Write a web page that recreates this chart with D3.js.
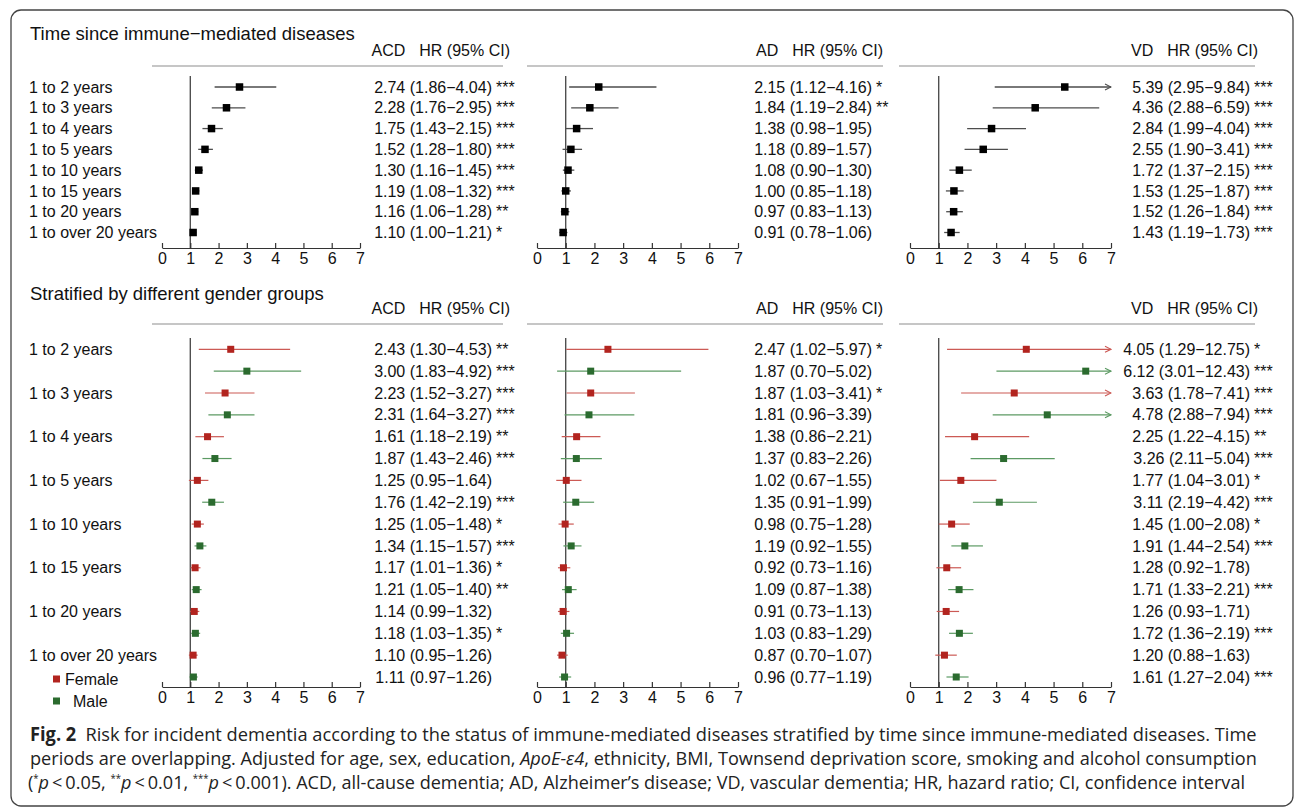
<!DOCTYPE html>
<html lang="en">
<head>
  <meta charset="UTF-8">
  <title>Fig. 2 - dementia risk by time since immune-mediated diseases</title>
  <script src="https://d3js.org/d3.v7.min.js"></script>
  <style>
    body { margin: 0; background: #fff; }
    svg text { font-family: "Liberation Sans", Arial, sans-serif; fill: #111; }
  </style>
</head>
<body>
<script>
  // ---- data ----
  const periods = ['1 to 2 years', '1 to 3 years', '1 to 4 years', '1 to 5 years',
    '1 to 10 years', '1 to 15 years', '1 to 20 years', '1 to over 20 years'];
  const ticks = [0, 1, 2, 3, 4, 5, 6, 7];

  // time since immune-mediated diseases
  const acdHR = [2.74, 2.28, 1.75, 1.52, 1.30, 1.19, 1.16, 1.10];
  const acdLo = [1.86, 1.76, 1.43, 1.28, 1.16, 1.08, 1.06, 1.00];
  const acdHi = [4.04, 2.95, 2.15, 1.80, 1.45, 1.32, 1.28, 1.21];
  const acdSig = ['***', '***', '***', '***', '***', '***', '**', '*'];

  const adHR = [2.15, 1.84, 1.38, 1.18, 1.08, 1.00, 0.97, 0.91];
  const adLo = [1.12, 1.19, 0.98, 0.89, 0.90, 0.85, 0.83, 0.78];
  const adHi = [4.16, 2.84, 1.95, 1.57, 1.30, 1.18, 1.13, 1.06];
  const adSig = ['*', '**', '', '', '', '', '', ''];

  const vdHR = [5.39, 4.36, 2.84, 2.55, 1.72, 1.53, 1.52, 1.43];
  const vdLo = [2.95, 2.88, 1.99, 1.90, 1.37, 1.25, 1.26, 1.19];
  const vdHi = [9.84, 6.59, 4.04, 3.41, 2.15, 1.87, 1.84, 1.73];
  const vdSig = ['***', '***', '***', '***', '***', '***', '***', '***'];

  // stratified by gender
  const acdFemaleHR = [2.43, 2.23, 1.61, 1.25, 1.25, 1.17, 1.14, 1.10];
  const acdFemaleLo = [1.30, 1.52, 1.18, 0.95, 1.05, 1.01, 0.99, 0.95];
  const acdFemaleHi = [4.53, 3.27, 2.19, 1.64, 1.48, 1.36, 1.32, 1.26];
  const acdFemaleSig = ['**', '***', '**', '', '*', '*', '', ''];
  const acdMaleHR = [3.00, 2.31, 1.87, 1.76, 1.34, 1.21, 1.18, 1.11];
  const acdMaleLo = [1.83, 1.64, 1.43, 1.42, 1.15, 1.05, 1.03, 0.97];
  const acdMaleHi = [4.92, 3.27, 2.46, 2.19, 1.57, 1.40, 1.35, 1.26];
  const acdMaleSig = ['***', '***', '***', '***', '***', '**', '*', ''];

  const adFemaleHR = [2.47, 1.87, 1.38, 1.02, 0.98, 0.92, 0.91, 0.87];
  const adFemaleLo = [1.02, 1.03, 0.86, 0.67, 0.75, 0.73, 0.73, 0.70];
  const adFemaleHi = [5.97, 3.41, 2.21, 1.55, 1.28, 1.16, 1.13, 1.07];
  const adFemaleSig = ['*', '*', '', '', '', '', '', ''];
  const adMaleHR = [1.87, 1.81, 1.37, 1.35, 1.19, 1.09, 1.03, 0.96];
  const adMaleLo = [0.70, 0.96, 0.83, 0.91, 0.92, 0.87, 0.83, 0.77];
  const adMaleHi = [5.02, 3.39, 2.26, 1.99, 1.55, 1.38, 1.29, 1.19];
  const adMaleSig = ['', '', '', '', '', '', '', ''];

  const vdFemaleHR = [4.05, 3.63, 2.25, 1.77, 1.45, 1.28, 1.26, 1.20];
  const vdFemaleLo = [1.29, 1.78, 1.22, 1.04, 1.00, 0.92, 0.93, 0.88];
  const vdFemaleHi = [12.75, 7.41, 4.15, 3.01, 2.08, 1.78, 1.71, 1.63];
  const vdFemaleSig = ['*', '***', '**', '*', '*', '', '', ''];
  const vdMaleHR = [6.12, 4.78, 3.26, 3.11, 1.91, 1.71, 1.72, 1.61];
  const vdMaleLo = [3.01, 2.88, 2.11, 2.19, 1.44, 1.33, 1.36, 1.27];
  const vdMaleHi = [12.43, 7.94, 5.04, 4.42, 2.54, 2.21, 2.19, 2.04];
  const vdMaleSig = ['***', '***', '***', '***', '***', '***', '***', '***'];

  // ---- styling ----
  const width = 1295, height = 807;
  const colors = {
    all: {mark: '#000', line: '#4d4d4d'},
    f: {mark: '#b2241f', line: '#cc5a55'},
    m: {mark: '#2b6b2f', line: '#5c9a63'}
  };

  const svg = d3.select('body').append('svg')
    .attr('width', width).attr('height', height);

  // outer frame
  svg.append('rect')
    .attr('x', 11).attr('y', 10).attr('width', 1282).attr('height', 796)
    .attr('rx', 10).attr('fill', 'none').attr('stroke', '#444').attr('stroke-width', 1.3);

  // arrow heads for truncated intervals
  const defs = svg.append('defs');
  Object.entries(colors).forEach(([k, c]) => {
    defs.append('marker')
      .attr('id', 'arrow-' + k)
      .attr('viewBox', '-1 -4 8 8')
      .attr('refX', 6).attr('refY', 0)
      .attr('markerWidth', 8).attr('markerHeight', 8)
      .attr('markerUnits', 'userSpaceOnUse')
      .attr('orient', 'auto')
      .append('path')
      .attr('d', 'M0,-3L6,0L0,3')
      .attr('fill', 'none')
      .attr('stroke', c.line)
      .attr('stroke-width', 1.1);
  });

  const fmt = d3.format('.2f');
  const ciText = d => `${fmt(d.hr)} (${fmt(d.lo)}\u2212${fmt(d.hi)})`;

  // column positions of the three panels (0 and 7 on the x axis, text ends)
  const panelPos = {
    ACD: {x0: 162, x7: 360, sep: [152, 503], textEnd: 492, headEnd: 510},
    AD: {x0: 537, x7: 738, sep: [527, 883], textEnd: 872, headEnd: 883},
    VD: {x0: 910, x7: 1111, sep: [899, 1255], textEnd: 1250, headEnd: 1258}
  };

  function makeRows(hr, lo, hi, sig, group) {
    return hr.map((v, i) => ({hr: v, lo: lo[i], hi: hi[i], sig: sig[i], group: group}));
  }

  function interleave(a, b) {
    return a.flatMap((d, i) => [d, b[i]]);
  }

  function drawPanel(name, rows, sec) {
    const pos = panelPos[name];
    const x = d3.scaleLinear().domain([0, 7]).range([pos.x0, pos.x7]);
    const y = d3.scalePoint().domain(d3.range(rows.length)).range(sec.rowRange);
    const g = svg.append('g');

    // header
    const hr = g.append('text')
      .attr('x', pos.headEnd).attr('y', sec.headY).attr('dy', '0.35em')
      .attr('text-anchor', 'end').attr('font-size', 16)
      .text('HR (95% CI)');
    const hw = hr.node().getComputedTextLength();
    g.append('text')
      .attr('x', pos.headEnd - hw - 14).attr('y', sec.headY).attr('dy', '0.35em')
      .attr('text-anchor', 'end').attr('font-size', 16)
      .text(name);

    // separator
    g.append('line')
      .attr('x1', pos.sep[0]).attr('x2', pos.sep[1])
      .attr('y1', sec.sepY).attr('y2', sec.sepY)
      .attr('stroke', '#b3b3b3').attr('stroke-width', 1.5);

    // reference line at HR = 1
    g.append('line')
      .attr('x1', x(1)).attr('x2', x(1))
      .attr('y1', sec.refTop).attr('y2', sec.axisY)
      .attr('stroke', '#444').attr('stroke-width', 1.3);

    // axis
    const axis = g.append('g')
      .attr('transform', `translate(0,${sec.axisY})`)
      .call(d3.axisBottom(x).tickValues(ticks).tickFormat(d3.format('d'))
        .tickSize(-5).tickSizeOuter(0).tickPadding(5));
    axis.selectAll('path, line').attr('stroke', '#333').attr('stroke-width', 1.2);
    axis.selectAll('text').attr('font-size', 16).attr('fill', '#111')
      .attr('font-family', '"Liberation Sans", Arial, sans-serif');

    // confidence intervals
    g.selectAll('line.ci')
      .data(rows)
      .join('line')
      .attr('class', 'ci')
      .attr('x1', d => x(Math.max(d.lo, 0)))
      .attr('x2', d => x(Math.min(d.hi, 7)))
      .attr('y1', (d, i) => y(i)).attr('y2', (d, i) => y(i))
      .attr('stroke', d => colors[d.group].line)
      .attr('stroke-width', sec.lineW)
      .attr('marker-end', d => d.hi > 7 ? `url(#arrow-${d.group})` : null);

    // point estimates
    g.selectAll('rect.pt')
      .data(rows)
      .join('rect')
      .attr('class', 'pt')
      .attr('x', d => x(d.hr) - sec.box / 2)
      .attr('y', (d, i) => y(i) - sec.box / 2)
      .attr('width', sec.box).attr('height', sec.box)
      .attr('fill', d => colors[d.group].mark);

    // HR text, right aligned at the closing bracket, then the stars
    g.selectAll('text.ci')
      .data(rows)
      .join('text')
      .attr('class', 'ci')
      .attr('x', pos.textEnd).attr('y', (d, i) => y(i)).attr('dy', '0.35em')
      .attr('text-anchor', 'end').attr('font-size', 16)
      .text(ciText);
    g.selectAll('text.sig')
      .data(rows)
      .join('text')
      .attr('class', 'sig')
      .attr('x', pos.textEnd + 4).attr('y', (d, i) => y(i)).attr('dy', '0.35em')
      .attr('font-size', 16)
      .text(d => d.sig);

    return y;
  }

  // ---- top section ----
  const topSec = {headY: 50, sepY: 66, rowRange: [87, 232.5], refTop: 76, axisY: 248, lineW: 1.3, box: 7.5};
  svg.append('text').attr('x', 30).attr('y', 40).attr('font-size', 18.5)
    .text('Time since immune\u2212mediated diseases');

  const yTop = drawPanel('ACD', makeRows(acdHR, acdLo, acdHi, acdSig, 'all'), topSec);
  drawPanel('AD', makeRows(adHR, adLo, adHi, adSig, 'all'), topSec);
  drawPanel('VD', makeRows(vdHR, vdLo, vdHi, vdSig, 'all'), topSec);

  svg.selectAll('text.lab-top')
    .data(periods)
    .join('text')
    .attr('class', 'lab-top')
    .attr('x', 29).attr('y', (d, i) => yTop(i)).attr('dy', '0.35em')
    .attr('font-size', 16)
    .text(d => d);

  // ---- bottom section ----
  const botSec = {headY: 308, sepY: 324, rowRange: [349.3, 677], refTop: 338, axisY: 687, lineW: 1.2, box: 7};
  svg.append('text').attr('x', 30).attr('y', 300).attr('font-size', 18.5)
    .text('Stratified by different gender groups');

  const yBot = drawPanel('ACD', interleave(
    makeRows(acdFemaleHR, acdFemaleLo, acdFemaleHi, acdFemaleSig, 'f'),
    makeRows(acdMaleHR, acdMaleLo, acdMaleHi, acdMaleSig, 'm')), botSec);
  drawPanel('AD', interleave(
    makeRows(adFemaleHR, adFemaleLo, adFemaleHi, adFemaleSig, 'f'),
    makeRows(adMaleHR, adMaleLo, adMaleHi, adMaleSig, 'm')), botSec);
  drawPanel('VD', interleave(
    makeRows(vdFemaleHR, vdFemaleLo, vdFemaleHi, vdFemaleSig, 'f'),
    makeRows(vdMaleHR, vdMaleLo, vdMaleHi, vdMaleSig, 'm')), botSec);

  svg.selectAll('text.lab-bot')
    .data(periods)
    .join('text')
    .attr('class', 'lab-bot')
    .attr('x', 29).attr('y', (d, i) => yBot(i * 2)).attr('dy', '0.35em')
    .attr('font-size', 16)
    .text(d => d);

  // legend
  const legend = [{label: 'Female', group: 'f', y: 679, tx: 65}, {label: 'Male', group: 'm', y: 701, tx: 73}];
  legend.forEach(l => {
    svg.append('rect')
      .attr('x', 53).attr('y', l.y - 3.5).attr('width', 7).attr('height', 7)
      .attr('fill', colors[l.group].mark);
    svg.append('text')
      .attr('x', l.tx).attr('y', l.y).attr('dy', '0.35em').attr('font-size', 16)
      .text(l.label);
  });

  // ---- caption ----
  const capFont = '"Open Sans", "Noto Sans", sans-serif';
  const capLines = [
    {y: 741, x: 30, w: 1227, parts: [
      {t: 'Fig. 2', bold: true},
      {t: '\u2002Risk for incident dementia according to the status of immune-mediated diseases stratified by time since immune-mediated diseases. Time'}]},
    {y: 765, x: 30, w: 1227, parts: [
      {t: 'periods are overlapping. Adjusted for age, sex, education, '},
      {t: 'ApoE-\u03b54', it: true},
      {t: ', ethnicity, BMI, Townsend deprivation score, smoking and alcohol consumption'}]},
    {y: 789, x: 28, w: 1218, parts: [
      {t: '('}, {t: '*', sup: true}, {t: 'p', it: true}, {t: '\u2009<\u20090.05, '},
      {t: '**', sup: true}, {t: 'p', it: true}, {t: '\u2009<\u20090.01, '},
      {t: '***', sup: true}, {t: 'p', it: true},
      {t: '\u2009<\u20090.001). ACD, all-cause dementia; AD, Alzheimer\u2019s disease; VD, vascular dementia; HR, hazard ratio; CI, confidence interval'}]}
  ];

  capLines.forEach(line => {
    const g = svg.append('g').attr('transform', `translate(${line.x},${line.y})`);
    const t = g.append('text')
      .attr('font-size', 19)
      .style('font-family', capFont)
      .style('fill', '#222');
    let shifted = false;
    line.parts.forEach(p => {
      const s = t.append('tspan').text(p.t);
      if (p.bold) s.attr('font-weight', 'bold');
      if (p.it) s.attr('font-style', 'italic');
      if (p.sup) {
        s.attr('font-size', 10).attr('dy', -7);
        shifted = true;
      } else if (shifted) {
        s.attr('dy', 7);
        shifted = false;
      }
    });
    const w = t.node().getComputedTextLength();
    g.attr('transform', `translate(${line.x},${line.y}) scale(${line.w / w},1)`);
  });
</script>
</body>
</html>
